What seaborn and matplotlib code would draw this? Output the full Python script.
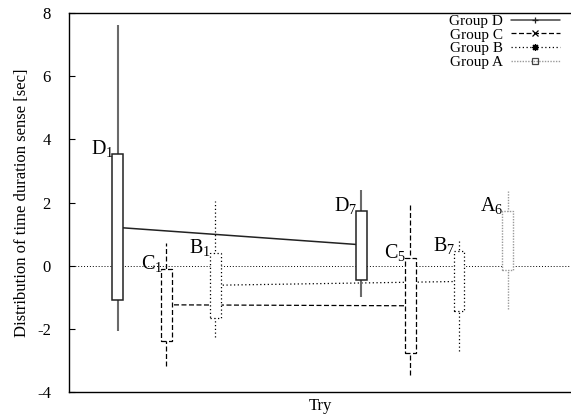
import matplotlib
matplotlib.use("Agg")
import matplotlib.pyplot as plt
import seaborn as sns
import pandas as pd
from matplotlib.lines import Line2D

# Candlestick summaries per group: slot position on the x axis, try number,
# whisker low/high, box low/high and the mean used for the connecting line.
groups = ["D", "C", "B", "A"]
slots = {"D": [1, 6], "C": [2, 7], "B": [3, 8], "A": [9]}
tries = {"D": [1, 7], "C": [1, 5], "B": [1, 7], "A": [6]}
whisker_low = {"D": [-2.07, -0.99], "C": [-3.17, -3.46], "B": [-2.26, -2.70], "A": [-1.37]}
box_low = {"D": [-1.09, -0.45], "C": [-2.38, -2.76], "B": [-1.65, -1.43], "A": [-0.14]}
box_high = {"D": [3.53, 1.73], "C": [-0.10, 0.24], "B": [0.40, 0.47], "A": [1.74]}
whisker_high = {"D": [7.62, 2.40], "C": [0.72, 1.92], "B": [2.05, 0.78], "A": [2.36]}
means = {"D": [1.21, 0.66], "C": [-1.24, -1.27], "B": [-0.62, -0.50], "A": [0.80]}

y_ticks = [-4, -2, 0, 2, 4, 6, 8]

styles = {
    "D": dict(color="#222222", ls="-", lw=1.1, wcolor="#6a6a6a", wlw=1.5, marker="+"),
    "C": dict(color="black", ls=(0, (4, 2)), lw=0.9, wcolor="black", wlw=0.9, marker="x"),
    "B": dict(color="black", ls=(0, (1, 2)), lw=0.9, wcolor="black", wlw=0.9, marker=(8, 2, 0)),
    "A": dict(color="#9a9a9a", ls=(0, (1, 1)), lw=1.0, wcolor="#9a9a9a", wlw=1.0, marker="s"),
}

rows = []
for g in groups:
    for i in range(len(slots[g])):
        rows.append(dict(group=g, slot=slots[g][i], trial=tries[g][i],
                         wlo=whisker_low[g][i], blo=box_low[g][i],
                         bhi=box_high[g][i], whi=whisker_high[g][i],
                         mean=means[g][i]))
df = pd.DataFrame(rows)

sns.set_theme(style="white")
plt.rcParams["font.family"] = ["Liberation Serif", "DejaVu Serif"]
plt.rcParams["mathtext.fontset"] = "custom"
plt.rcParams["mathtext.rm"] = "Liberation Serif"
plt.rcParams["mathtext.it"] = "Liberation Serif"
plt.rcParams["text.color"] = "black"
plt.rcParams["axes.labelcolor"] = "black"
plt.rcParams["ytick.color"] = "black"

fig = plt.figure(figsize=(5.71, 4.18), dpi=100)
ax = fig.add_axes([69 / 571, 1 - 392 / 418, 1 - 69 / 571, (392 - 13) / 418])

box_w = 0.22

# zero reference line
ax.axhline(0, color="black", lw=0.7, ls=(0, (1, 2)), zorder=1)

for g in groups:
    st = styles[g]
    sub = df[df.group == g]
    # mean connecting line (hidden inside the boxes by their white fill)
    if len(sub) > 1:
        sns.lineplot(data=sub, x="slot", y="mean", ax=ax, color=st["color"],
                     lw=st["lw"], zorder=2, legend=False, estimator=None, sort=False)
        ax.lines[-1].set_linestyle(st["ls"])
    # whiskers
    ax.vlines(sub.slot, sub.wlo, sub.whi, colors=st["wcolor"], lw=st["wlw"],
              linestyles=[st["ls"]], zorder=3)
    # boxes
    ax.bar(sub.slot, sub.bhi - sub.blo, bottom=sub.blo, width=box_w,
           facecolor="white", edgecolor=st["color"], lw=st["lw"],
           linestyle=st["ls"], zorder=4)
    # labels at the top-left corner of each box
    for _, r in sub.iterrows():
        ax.text(r.slot - box_w / 2 + 0.03, r.bhi, f"{g}$_{{{r.trial}}}$",
                ha="right", va="baseline", fontsize=14.5, zorder=5)

ax.set_xlim(0, 10.3)
ax.set_ylim(-4, 8)
ax.set_xticks([])
ax.set_yticks(y_ticks)
ax.set_yticklabels([str(t) for t in y_ticks], fontsize=12)
ax.tick_params(axis="y", direction="in", length=4, width=0.8, left=True, right=False, pad=13)
ax.set_xlabel("Try", fontsize=12, labelpad=4)
ax.set_ylabel("Distribution of time duration sense [sec]", fontsize=12, labelpad=5)
for s in ["left", "top", "bottom"]:
    ax.spines[s].set_color("black")
    ax.spines[s].set_linewidth(1.0)
ax.spines["right"].set_visible(False)

handles = []
for g in groups:
    st = styles[g]
    handles.append(Line2D([0], [0], color=st["color"] if g != "D" else "#444444",
                          lw=st["lw"], ls=st["ls"], marker=st["marker"],
                          markersize=5 if g != "A" else 4,
                          markerfacecolor="none" if g == "A" else st["color"],
                          markeredgecolor=st["color"] if g != "A" else "#444444",
                          markeredgewidth=0.9))
leg = ax.legend(handles, [f"Group {g}" for g in groups], loc="upper right",
                bbox_to_anchor=(0.99, 1.013), frameon=False, fontsize=11,
                handlelength=3.2, handletextpad=0.5, labelspacing=0.0,
                borderaxespad=0.0, markerfirst=False)
for t in leg.get_texts():
    t.set_ha("right")

fig.savefig("out.png", dpi=100)
